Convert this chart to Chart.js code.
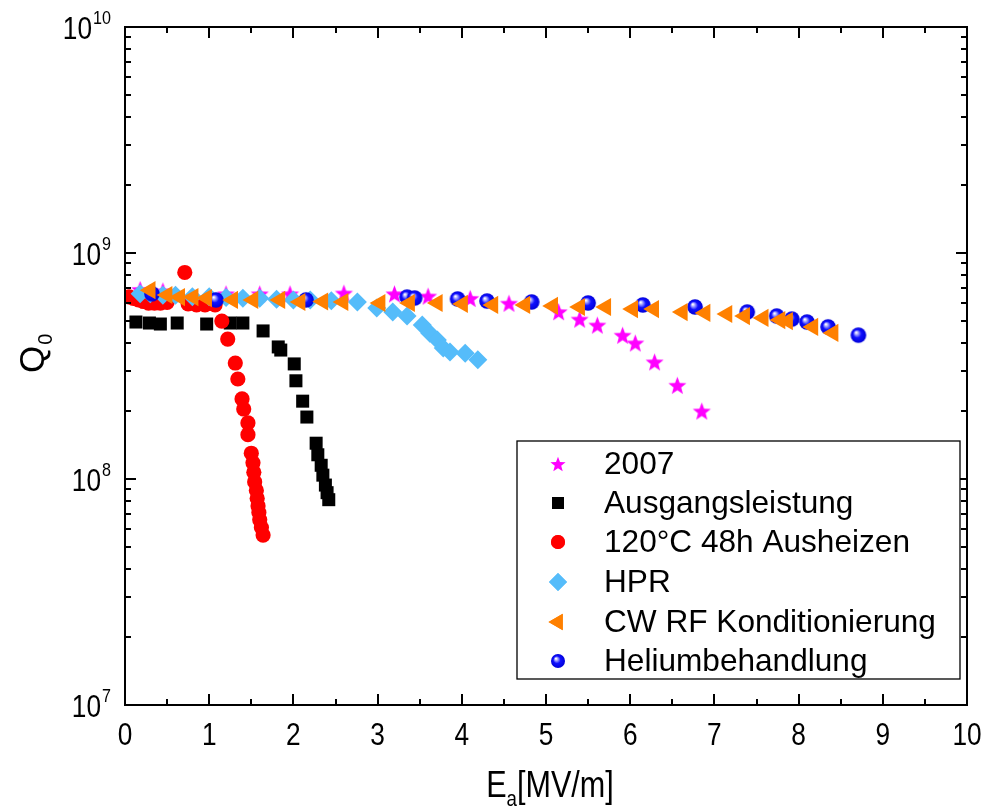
<!DOCTYPE html>
<html>
<head>
<meta charset="utf-8">
<script src="https://cdn.jsdelivr.net/npm/chart.js@4.4.1/dist/chart.umd.min.js"></script>
<style>
  html, body { margin: 0; padding: 0; background: #ffffff; }
  #wrap { position: relative; width: 987px; height: 809px; }
</style>
</head>
<body>
<div id="wrap"><canvas id="c" width="987" height="809"></canvas></div>
<script>
// ---------------- data ----------------
const xTickLabels = ['0','1','2','3','4','5','6','7','8','9','10'];
const xTickValues = [0,1,2,3,4,5,6,7,8,9,10];
const yTickValues = [1e7, 1e8, 1e9, 1e10];
const yTickExponents = ['7','8','9','10'];

const seriesNames = ['2007','Ausgangsleistung','120°C 48h Ausheizen','HPR','CW RF Konditionierung','Heliumbehandlung'];

const s2007X = [0.18, 0.45, 1.2, 1.6, 1.96, 2.6, 3.2, 3.6, 4.1, 4.56, 5.15, 5.4, 5.61, 5.91, 6.06, 6.29, 6.56, 6.85];
const s2007Y = [6.9e8, 6.8e8, 6.6e8, 6.6e8, 6.6e8, 6.65e8, 6.6e8, 6.45e8, 6.3e8, 6.0e8, 5.5e8, 5.1e8, 4.8e8, 4.33e8, 4.0e8, 3.3e8, 2.6e8, 2.0e8];

const ausgX = [0.13, 0.29, 0.42, 0.62, 0.97, 1.25, 1.40, 1.64, 1.82, 1.85, 2.01, 2.03, 2.11, 2.16, 2.27, 2.29, 2.33, 2.35, 2.38, 2.40, 2.42];
const ausgY = [4.95e8, 4.9e8, 4.85e8, 4.9e8, 4.85e8, 4.9e8, 4.9e8, 4.52e8, 3.84e8, 3.72e8, 3.23e8, 2.72e8, 2.21e8, 1.88e8, 1.44e8, 1.28e8, 1.15e8, 1.04e8, 9.4e7, 8.7e7, 8.1e7];

const bakeX = [0.05, 0.1, 0.16, 0.22, 0.28, 0.35, 0.42, 0.5, 0.71, 0.75, 0.85, 0.95, 1.07, 1.15, 1.22, 1.31, 1.34, 1.39, 1.41, 1.46, 1.46, 1.50, 1.52, 1.53, 1.54, 1.56, 1.57, 1.58, 1.59, 1.60, 1.62, 1.64];
const bakeY = [6.4e8, 6.3e8, 6.2e8, 6.1e8, 6.0e8, 6.0e8, 6.0e8, 6.05e8, 8.2e8, 5.95e8, 5.9e8, 5.9e8, 5.9e8, 5.0e8, 4.16e8, 3.26e8, 2.77e8, 2.26e8, 2.04e8, 1.77e8, 1.57e8, 1.30e8, 1.18e8, 1.07e8, 9.7e7, 8.9e7, 8.2e7, 7.6e7, 7.1e7, 6.6e7, 6.1e7, 5.65e7];

const hprX = [0.18, 0.3, 0.45, 0.6, 0.8, 1.0, 1.2, 1.4, 1.6, 1.8, 2.0, 2.2, 2.45, 2.76, 2.99, 3.18, 3.35, 3.53, 3.62, 3.71, 3.78, 3.86, 4.04, 4.19];
const hprY = [6.6e8, 6.6e8, 6.5e8, 6.5e8, 6.4e8, 6.4e8, 6.35e8, 6.3e8, 6.3e8, 6.25e8, 6.2e8, 6.2e8, 6.15e8, 6.07e8, 5.71e8, 5.48e8, 5.26e8, 4.80e8, 4.42e8, 4.12e8, 3.80e8, 3.65e8, 3.6e8, 3.37e8];

const cwX = [0.30, 0.50, 0.65, 0.81, 0.97, 1.28, 1.52, 1.84, 2.08, 2.35, 2.59, 3.03, 3.38, 3.71, 4.01, 4.37, 4.75, 5.08, 5.40, 5.71, 6.03, 6.28, 6.62, 6.89, 7.15, 7.36, 7.58, 7.78, 7.87, 8.17, 8.41];
const cwY = [6.85e8, 6.52e8, 6.38e8, 6.38e8, 6.32e8, 6.2e8, 6.2e8, 6.2e8, 6.07e8, 6.1e8, 6.07e8, 6.01e8, 6.01e8, 6.01e8, 5.95e8, 5.89e8, 5.89e8, 5.83e8, 5.77e8, 5.77e8, 5.65e8, 5.65e8, 5.48e8, 5.43e8, 5.37e8, 5.26e8, 5.16e8, 5.05e8, 5.0e8, 4.71e8, 4.43e8];

const heX = [0.32, 1.08, 2.15, 3.35, 3.44, 3.95, 4.30, 4.83, 5.50, 6.15, 6.77, 7.39, 7.74, 7.92, 8.10, 8.35, 8.71];
const heY = [6.6e8, 6.2e8, 6.2e8, 6.38e8, 6.32e8, 6.26e8, 6.13e8, 6.07e8, 6.01e8, 5.89e8, 5.77e8, 5.48e8, 5.26e8, 5.1e8, 4.95e8, 4.71e8, 4.33e8];

// ---------------- marker images ----------------
function starCanvas(R) {
  const s = Math.ceil(R * 2 + 2);
  const c = document.createElement('canvas'); c.width = s; c.height = s;
  const g = c.getContext('2d');
  const cx = s / 2, cy = s / 2 + R * 0.1, r = R * 0.42;
  g.beginPath();
  for (let i = 0; i < 10; i++) {
    const rr = i % 2 === 0 ? R : r;
    const a = -Math.PI / 2 + i * Math.PI / 5;
    const px = cx + rr * Math.cos(a), py = cy + rr * Math.sin(a);
    if (i === 0) g.moveTo(px, py); else g.lineTo(px, py);
  }
  g.closePath();
  g.fillStyle = '#ff00ff';
  g.fill();
  return c;
}
function sphereCanvas(R) {
  const s = Math.ceil(R * 2 + 2);
  const c = document.createElement('canvas'); c.width = s; c.height = s;
  const g = c.getContext('2d');
  const cx = s / 2, cy = s / 2;
  const grad = g.createRadialGradient(cx - R * 0.3, cy - R * 0.35, R * 0.05, cx, cy, R);
  grad.addColorStop(0, '#ffffff');
  grad.addColorStop(0.2, '#a0a0ff');
  grad.addColorStop(0.5, '#1010ff');
  grad.addColorStop(1, '#0000d8');
  g.beginPath(); g.arc(cx, cy, R, 0, Math.PI * 2);
  g.fillStyle = grad; g.fill();
  return c;
}
const starImg = starCanvas(9.5);
const sphereImg = sphereCanvas(7.8);
const starImgL = starCanvas(8);
const sphereImgL = sphereCanvas(7);

function pts(xs, ys) { return xs.map((x, i) => ({ x: x, y: ys[i] })); }

const datasets = [
  { label: seriesNames[0], data: pts(s2007X, s2007Y), pointStyle: starImg, order: 6,
    backgroundColor: '#ff00ff', borderColor: '#ff00ff' },
  { label: seriesNames[1], data: pts(ausgX, ausgY), pointStyle: 'rect', pointRadius: 9.2, order: 5,
    backgroundColor: '#000000', borderColor: '#000000', borderWidth: 0 },
  { label: seriesNames[2], data: pts(bakeX, bakeY), pointStyle: 'circle', pointRadius: 7.6, order: 4,
    backgroundColor: '#ff0000', borderColor: '#ff0000', borderWidth: 0 },
  { label: seriesNames[3], data: pts(hprX, hprY), pointStyle: 'rectRot', pointRadius: 9.5, order: 3,
    backgroundColor: '#55bcfa', borderColor: '#55bcfa', borderWidth: 0 },
  { label: seriesNames[5], data: pts(heX, heY), pointStyle: sphereImg, order: 2,
    backgroundColor: '#0000ff', borderColor: '#0000ff' },
  { label: seriesNames[4], data: pts(cwX, cwY), pointStyle: 'triangle', pointRotation: 270, pointRadius: 10.5, order: 1,
    backgroundColor: '#ff8000', borderColor: '#ff8000', borderWidth: 0 }
];
datasets.forEach(d => { d.showLine = false; if (d.borderWidth === undefined) d.borderWidth = 0; });

// ---------------- decorations plugin ----------------
const FONT = "'Liberation Sans', Arial, sans-serif";
function narrowText(ctx, text, x, y, size, align, sx) {
  ctx.save();
  ctx.font = size + 'px ' + FONT;
  ctx.translate(x, y);
  ctx.scale(sx, 1);
  ctx.textAlign = align;
  ctx.fillText(text, 0, 0);
  ctx.restore();
}
function narrowWidth(ctx, text, size, sx) {
  ctx.save(); ctx.font = size + 'px ' + FONT;
  const w = ctx.measureText(text).width * sx; ctx.restore(); return w;
}

const deco = {
  id: 'deco',
  afterDatasetsDraw(chart) {
    const ctx = chart.ctx;
    const xs = chart.scales.x, ys = chart.scales.y;
    const a = chart.chartArea;
    ctx.save();
    ctx.strokeStyle = '#000'; ctx.fillStyle = '#000';
    ctx.lineWidth = 2;
    // frame
    ctx.strokeRect(a.left, a.top, a.right - a.left, a.bottom - a.top);
    // x ticks (inward, bottom and top)
    const MAJ = 11, MIN = 6;
    ctx.beginPath();
    for (let v = 0; v <= 10.001; v += 0.5) {
      const px = Math.round(xs.getPixelForValue(v)) ;
      const len = Math.abs(v - Math.round(v)) < 1e-6 ? MAJ : MIN;
      if (v > 0 && v < 10) {
        ctx.moveTo(px, a.bottom); ctx.lineTo(px, a.bottom - len);
        ctx.moveTo(px, a.top); ctx.lineTo(px, a.top + len);
      }
    }
    // y ticks (log)
    for (let e = 7; e < 10; e++) {
      for (let m = 1; m <= 9; m++) {
        const v = m * Math.pow(10, e);
        if (m === 1 && e === 7) continue;
        const py = Math.round(ys.getPixelForValue(v));
        const len = m === 1 ? MAJ : MIN;
        ctx.moveTo(a.left, py); ctx.lineTo(a.left + len, py);
        ctx.moveTo(a.right, py); ctx.lineTo(a.right - len, py);
      }
    }
    ctx.stroke();

    // x tick labels
    ctx.textBaseline = 'alphabetic';
    xTickValues.forEach((v, i) => {
      const px = xs.getPixelForValue(v);
      narrowText(ctx, xTickLabels[i], px, a.bottom + 40, 32, 'center', 0.82);
    });
    // y tick labels 10^n
    yTickValues.forEach((v, i) => {
      const py = ys.getPixelForValue(v);
      const base = '10', sup = yTickExponents[i];
      const supW = narrowWidth(ctx, sup, 19, 0.85);
      const rightEdge = a.left - 14;
      narrowText(ctx, sup, rightEdge - supW, py - 3, 19, 'left', 0.85);
      narrowText(ctx, base, rightEdge - supW - 1, py + 12, 32, 'right', 0.82);
    });

    // x axis title: E_a[MV/m]
    const tY = 797;
    const wE = narrowWidth(ctx, 'E', 36, 0.85);
    const wa = narrowWidth(ctx, 'a', 22, 0.85);
    const wR = narrowWidth(ctx, '[MV/m]', 36, 0.85);
    const total = wE + wa + wR;
    let sx = (a.left + a.right) / 2 - total / 2 + 4;
    narrowText(ctx, 'E', sx, tY, 36, 'left', 0.85);
    narrowText(ctx, 'a', sx + wE, tY + 9, 22, 'left', 0.85);
    narrowText(ctx, '[MV/m]', sx + wE + wa, tY, 36, 'left', 0.85);

    // y axis title: Q_0 rotated
    ctx.save();
    ctx.translate(44, 373);
    ctx.rotate(-Math.PI / 2);
    ctx.font = '35px ' + FONT;
    ctx.textAlign = 'left';
    ctx.fillText('Q', 0, 0);
    const wQ = ctx.measureText('Q').width;
    ctx.font = '20px ' + FONT;
    ctx.fillText('0', wQ + 1, 8);
    ctx.restore();

    // legend box
    const L = { x1: 517, y1: 441, x2: 960, y2: 679 };
    ctx.fillStyle = '#fff';
    ctx.fillRect(L.x1, L.y1, L.x2 - L.x1, L.y2 - L.y1);
    ctx.lineWidth = 1.3; ctx.strokeStyle = '#000';
    ctx.strokeRect(L.x1, L.y1, L.x2 - L.x1, L.y2 - L.y1);
    const rows = [464, 503, 542, 582, 622, 661];
    const legendSets = [datasets[0], datasets[1], datasets[2], datasets[3], datasets[5], datasets[4]];
    const mx = 558;
    legendSets.forEach((d, i) => {
      const y = rows[i];
      ctx.fillStyle = d.backgroundColor;
      if (i === 0) ctx.drawImage(starImgL, mx - starImgL.width / 2, y - starImgL.height / 2);
      else if (i === 5) ctx.drawImage(sphereImgL, mx - sphereImgL.width / 2, y - sphereImgL.height / 2);
      else {
        const opts = { pointStyle: d.pointStyle, radius: i === 1 ? 8.5 : (i === 2 ? 7 : (i === 3 ? 9 : 9.5)),
                       rotation: d.pointRotation || 0, borderWidth: 0 };
        Chart.helpers.drawPoint(ctx, opts, mx, y);
        ctx.fill();
      }
      ctx.fillStyle = '#000';
      ctx.font = '31.6px ' + FONT;
      ctx.textAlign = 'left';
      ctx.textBaseline = 'middle';
      ctx.fillText(d.label, 604, y + 1);
    });
    ctx.restore();
  }
};

new Chart(document.getElementById('c'), {
  type: 'scatter',
  data: { datasets: datasets },
  options: {
    responsive: false,
    animation: false,
    layout: { padding: { left: 125, top: 27, right: 20, bottom: 104 } },
    scales: {
      x: { type: 'linear', min: 0, max: 10, display: false },
      y: { type: 'logarithmic', min: 1e7, max: 1e10, display: false }
    },
    plugins: { legend: { display: false }, tooltip: { enabled: false } }
  },
  plugins: [deco]
});
</script>
</body>
</html>
